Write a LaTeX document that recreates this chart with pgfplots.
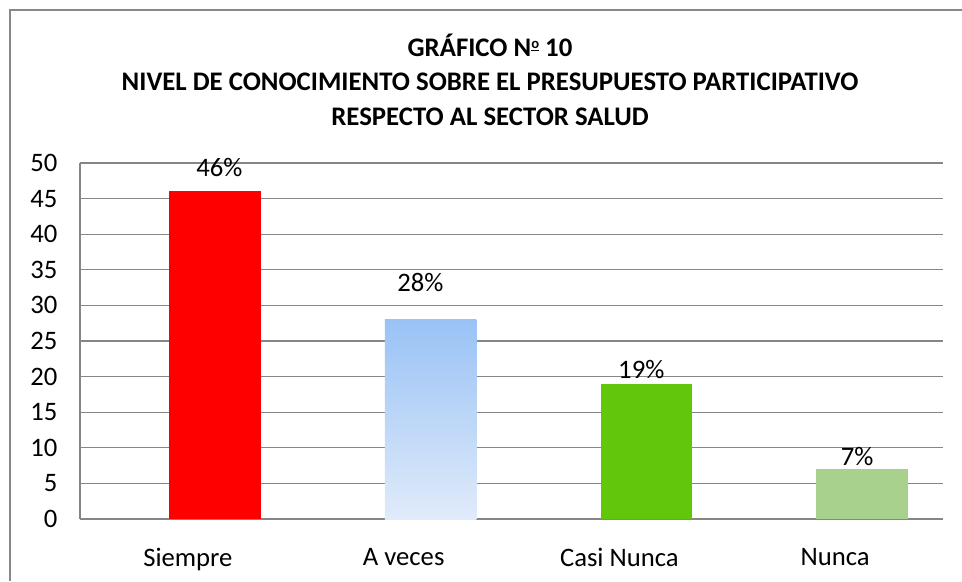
\documentclass[border=0pt]{standalone}
\usepackage{fontspec}
\setmainfont{Carlito}
\usepackage{pgfplots}
\pgfplotsset{compat=1.18}

\definecolor{gridgray}{RGB}{134,134,134}
\definecolor{framegray}{RGB}{136,136,136}
\definecolor{barblueTop}{RGB}{153,194,245}
\definecolor{barblueBot}{RGB}{224,235,250}
\definecolor{bargreen}{RGB}{98,198,10}
\definecolor{barlight}{RGB}{169,209,142}

\newcommand{\numero}{N\raisebox{0.62ex}{\fontsize{11}{11}\selectfont\underline{o}}}

\begin{document}
\begin{tikzpicture}
% picture is 962x581 px at 0.75pt per px
\path[use as bounding box] (0,0) rectangle (721.5pt,435.75pt);
\draw[framegray, line width=1pt] (7.5pt,0pt) -- (7.5pt,428.25pt) -- (721.5pt,428.25pt);

\node[align=center, font=\bfseries\fontsize{20.1}{26}\selectfont]
  at (367.5pt,376pt)
  {GRÁFICO \numero\ 10\\NIVEL DE CONOCIMIENTO SOBRE EL PRESUPUESTO PARTICIPATIVO\\RESPECTO AL SECTOR SALUD};

\begin{axis}[
    at={(60pt,46.5pt)}, anchor=south west,
    scale only axis,
    width=647.25pt, height=267pt,
    xmin=-0.5, xmax=3.5,
    ymin=0, ymax=50,
    ytick={0,5,...,50},
    xtick={0,1,2,3},
    xticklabels={Siempre, A veces, Casi Nunca, Nunca},
    axis x line=bottom, axis y line=left,
    axis line style={-, draw=gridgray, line width=1pt},
    ymajorgrids,
    grid style={gridgray, line width=1pt},
    major tick length=0pt,
    tick label style={font=\fontsize{20}{24}\selectfont},
    yticklabel style={xshift=-13.5pt},
    xticklabel style={yshift=-18.5pt},
    /pgf/number format/assume math mode=true,
    ybar,
    bar width=0.424,
    bar shift=0.125,
    point meta=explicit symbolic,
    nodes near coords,
    every node near coord/.append style={font=\fontsize{20}{24}\selectfont, anchor=center},
]
\addplot[fill=red, draw=none, bar shift=0.125,
  every node near coord/.append style={xshift=3.4pt, yshift=18pt}]
  coordinates {(0,46) [46\%]};
\addplot[draw=none, top color=barblueTop, bottom color=barblueBot, bar shift=0.125,
  every node near coord/.append style={xshift=-7.7pt, yshift=28pt}]
  coordinates {(1,28) [28\%]};
\addplot[fill=bargreen, draw=none, bar shift=0.125,
  every node near coord/.append style={xshift=-3.8pt, yshift=10.3pt}]
  coordinates {(2,19) [19\%]};
\addplot[fill=barlight, draw=none, bar shift=0.125,
  every node near coord/.append style={xshift=-3.8pt, yshift=9.4pt}]
  coordinates {(3,7) [7\%]};
\end{axis}
\end{tikzpicture}
\end{document}
